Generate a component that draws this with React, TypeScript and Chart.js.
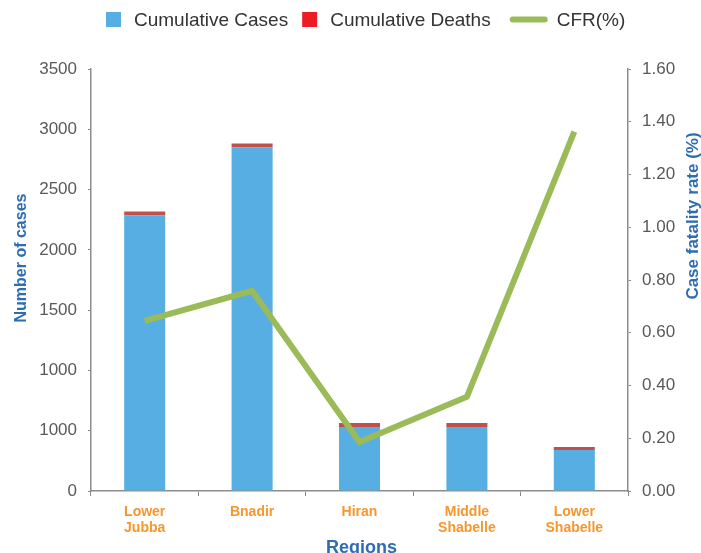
import React, { useEffect, useRef } from "react";
import { Chart, registerables } from "chart.js";

Chart.register(...registerables);

const regions: string[][] = [
  ["Lower", "Jubba"],
  ["Bnadir"],
  ["Hiran"],
  ["Middle", "Shabelle"],
  ["Lower", "Shabelle"],
];
const cumulativeCases = [2285, 2850, 531, 531, 340];
const cumulativeDeaths = [33, 33, 33, 33, 25];
const cfrPercent = [0.645, 0.759, 0.186, 0.357, 1.363];
const leftTickLabels = ["0", "1000", "1000", "1500", "2000", "2500", "3000", "3500"];
const rightTickLabels = ["0.00", "0.20", "0.40", "0.60", "0.80", "1.00", "1.20", "1.40", "1.60"];

const FONT = '"Liberation Sans", Arial, Helvetica, sans-serif';
const CASES_COLOR = "#56AEE2";
const DEATHS_COLOR = "#C0504D";
const DEATHS_LEGEND_COLOR = "#ED1C24";
const CFR_COLOR = "#9BBB59";
const TITLE_COLOR = "#2E6DB4";
const TICK_COLOR = "#595959";
const AXIS_COLOR = "#8C8C8C";

const overlayPlugin = {
  id: "overlay",
  afterDraw(chart: any) {
    const ctx: CanvasRenderingContext2D = chart.ctx;
    const area = chart.chartArea;
    ctx.save();

    // Legend
    const items = [
      { label: chart.data.datasets[0].label, color: CASES_COLOR, kind: "box" },
      { label: chart.data.datasets[1].label, color: DEATHS_LEGEND_COLOR, kind: "box" },
      { label: chart.data.datasets[2].label, color: CFR_COLOR, kind: "line" },
    ];
    ctx.font = `19px ${FONT}`;
    ctx.textBaseline = "middle";
    ctx.textAlign = "left";
    const ly = 19.5;
    let x = 106;
    items.forEach((it, i) => {
      if (i > 0) x += it.kind === "line" ? 19 : 14;
      if (it.kind === "box") {
        ctx.fillStyle = it.color;
        ctx.fillRect(x, ly - 7.5, 15, 15);
        x += 15 + 13;
      } else {
        ctx.strokeStyle = it.color;
        ctx.lineWidth = 6;
        ctx.lineCap = "round";
        ctx.beginPath();
        ctx.moveTo(x + 3, ly);
        ctx.lineTo(x + 35, ly);
        ctx.stroke();
        x += 38 + 9;
      }
      ctx.fillStyle = "#333333";
      ctx.fillText(it.label, x, ly + 1);
      x += ctx.measureText(it.label).width;
    });

    // Axis titles
    ctx.fillStyle = TITLE_COLOR;
    ctx.textAlign = "center";
    ctx.textBaseline = "middle";
    const midY = (area.top + area.bottom) / 2;

    ctx.save();
    ctx.font = `bold 16px ${FONT}`;
    ctx.translate(area.left - 69, midY - 22);
    ctx.rotate(-Math.PI / 2);
    ctx.fillText("Number of cases", 0, 0);
    ctx.restore();

    ctx.save();
    ctx.font = `bold 17px ${FONT}`;
    ctx.translate(area.right + 65, midY - 64);
    ctx.rotate(-Math.PI / 2);
    ctx.fillText("Case fatality rate (%)", 0, 0);
    ctx.restore();

    ctx.font = `bold 18px ${FONT}`;
    ctx.textBaseline = "alphabetic";
    ctx.fillText("Regions", (area.left + area.right) / 2 + 2, 553);

    ctx.restore();
  },
};

export default function App() {
  const canvasRef = useRef<HTMLCanvasElement | null>(null);

  useEffect(() => {
    if (!canvasRef.current) return;
    const chart = new Chart(canvasRef.current, {
      type: "bar",
      data: {
        labels: regions,
        datasets: [
          {
            type: "bar",
            label: "Cumulative Cases",
            data: cumulativeCases,
            backgroundColor: CASES_COLOR,
            yAxisID: "y",
            stack: "s",
            order: 1,
            barPercentage: 0.382,
            categoryPercentage: 1,
          },
          {
            type: "bar",
            label: "Cumulative Deaths",
            data: cumulativeDeaths,
            backgroundColor: DEATHS_COLOR,
            yAxisID: "y",
            stack: "s",
            order: 2,
            barPercentage: 0.382,
            categoryPercentage: 1,
          },
          {
            type: "line",
            label: "CFR(%)",
            data: cfrPercent,
            borderColor: CFR_COLOR,
            backgroundColor: CFR_COLOR,
            borderWidth: 6,
            pointRadius: 0,
            pointHoverRadius: 0,
            tension: 0,
            borderJoinStyle: "miter",
            borderCapStyle: "butt",
            yAxisID: "y1",
            order: 0,
          } as any,
        ],
      },
      options: {
        responsive: false,
        animation: false,
        layout: { padding: { top: 69, left: 0, right: 0, bottom: 0 } },
        plugins: {
          legend: { display: false },
          tooltip: { enabled: false },
          title: { display: false },
        },
        scales: {
          x: {
            stacked: true,
            offset: true,
            grid: {
              display: true,
              drawOnChartArea: false,
              drawTicks: true,
              tickLength: 5,
              color: AXIS_COLOR,
              offset: true,
            },
            border: { display: true, color: AXIS_COLOR, width: 1.5 },
            ticks: {
              color: "#F7962C",
              font: { family: FONT, size: 14, weight: "bold", lineHeight: 1.15 },
              padding: 8,
              maxRotation: 0,
              autoSkip: false,
            },
            afterFit(scale: any) {
              scale.height = 62;
            },
          },
          y: {
            stacked: true,
            position: "left",
            min: 0,
            max: 3500,
            grid: {
              display: true,
              drawOnChartArea: false,
              drawTicks: true,
              tickLength: 3,
              color: AXIS_COLOR,
            },
            border: { display: true, color: AXIS_COLOR, width: 1.5 },
            ticks: {
              stepSize: 500,
              color: TICK_COLOR,
              font: { family: FONT, size: 17 },
              padding: 11,
              callback: (_v: any, i: number) => leftTickLabels[i],
            },
            afterFit(scale: any) {
              scale.width = 91;
            },
          },
          y1: {
            position: "right",
            min: 0,
            max: 1.6,
            grid: {
              display: true,
              drawOnChartArea: false,
              drawTicks: true,
              tickLength: 3,
              color: AXIS_COLOR,
            },
            border: { display: true, color: AXIS_COLOR, width: 1.5 },
            ticks: {
              stepSize: 0.2,
              color: TICK_COLOR,
              font: { family: FONT, size: 17 },
              padding: 11,
              callback: (_v: any, i: number) => rightTickLabels[i],
            },
            afterFit(scale: any) {
              scale.width = 73;
            },
          },
        },
      },
      plugins: [overlayPlugin],
    });
    return () => chart.destroy();
  }, []);

  return (
    <div style={{ position: "fixed", left: 0, top: 0, width: 701, height: 553, background: "#fff" }}>
      <canvas ref={canvasRef} width={701} height={553} style={{ display: "block", width: 701, height: 553 }} />
    </div>
  );
}
